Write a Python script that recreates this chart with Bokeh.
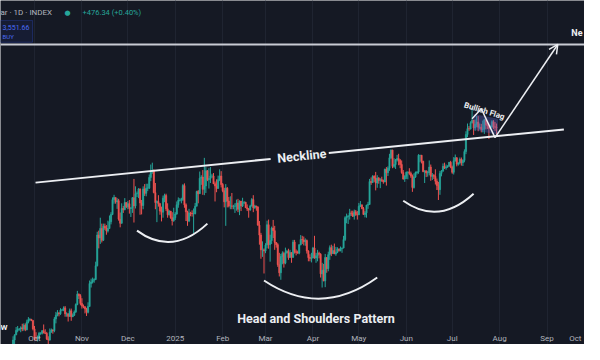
import pandas as pd
from bokeh.plotting import figure
from bokeh.models import (ColumnDataSource, FixedTicker, Span, Arrow, OpenHead,
                          Label, BoxAnnotation, Range1d)
from bokeh.embed import file_html
from bokeh.resources import INLINE

# ---------------- data (BTC/USD daily, thousands of USD) ----------------
start_date = "2024-09-17"
first_open = 58.2

closes = [
    60.3, 61.7, 62.9, 63.2, 63.3, 63.6, 63.3, 64.3, 63.1, 65.2, 65.8, 65.9, 65.6, 63.3,
    60.8, 60.6, 60.7, 62.1, 62.1, 62.8, 62.2, 62.1, 60.6, 60.3, 62.4, 63.0, 62.8, 66.0, 67.0, 67.6,
    67.4, 68.4, 68.4, 69.0, 67.4, 67.4, 66.7, 68.2, 66.6, 67.0, 67.9, 69.9, 72.7, 72.3, 70.2,
    69.5, 69.3, 68.7, 67.8, 69.4, 75.6, 76.0, 76.5, 76.7, 80.4, 88.7, 87.9, 90.5, 87.3, 91.1,
    90.6, 89.8, 90.5, 92.3, 94.3, 98.3, 98.9, 97.7, 98.0, 93.0, 91.9, 95.9, 95.6, 97.5, 96.4,
    97.2, 95.9, 96.0, 98.8, 96.6, 99.9, 99.9, 101.2, 97.4, 96.7, 101.2, 100.0, 101.4, 101.4, 104.3,
    106.0, 106.1, 100.2, 97.5, 97.8, 97.2, 95.2, 94.9, 98.7, 99.4, 95.8, 94.2, 95.2, 93.4, 92.6, 93.4,
    94.4, 96.9, 98.1, 98.2, 98.3, 102.1, 96.9, 95.0, 92.5, 94.7, 94.6, 94.5, 94.5, 96.5, 100.5,
    99.9, 104.1, 104.4, 101.1, 102.0, 106.1, 103.7, 104.0, 104.7, 104.7, 102.6, 102.0, 101.3, 103.7, 104.7, 102.4,
    100.7, 97.7, 101.4, 97.9, 96.6, 96.6, 96.5, 96.5, 96.5, 97.4, 95.7, 97.9, 96.6, 97.5,
    97.6, 96.1, 95.8, 95.5, 96.6, 98.3, 96.1, 96.6, 96.3, 91.4, 88.7, 84.7, 84.7, 84.4,
    86.0, 91.5, 86.1, 87.2, 90.6, 89.9, 86.7, 86.1, 80.7, 78.5, 82.9, 83.7, 81.1, 83.9, 84.3,
    82.6, 84.0, 82.7, 86.8, 84.2, 84.0, 83.8, 86.1, 87.5, 87.4, 86.9, 87.2, 84.4, 82.6, 82.4, 82.5,
    85.2, 82.5, 83.1, 83.8, 83.5, 78.2, 79.2, 76.3, 82.6, 79.6, 83.4, 85.3, 83.7, 84.5, 83.6,
    84.0, 84.9, 84.5, 85.1, 85.2, 87.5, 93.4, 93.7, 93.9, 94.7, 94.6, 93.8, 95.0, 94.3, 94.2,
    96.5, 96.9, 95.9, 94.3, 94.7, 96.8, 97.0, 103.2, 102.9, 104.6, 104.1, 102.8, 104.1, 103.5, 103.7,
    103.5, 103.1, 106.5, 105.6, 106.8, 109.6, 111.7, 107.3, 107.8, 109.0, 109.4, 108.9, 107.8, 105.6, 103.9, 104.6,
    105.7, 105.8, 105.4, 104.7, 101.6, 104.4, 105.6, 105.8, 110.3, 110.3, 108.7, 105.9, 106.1, 105.5, 105.6,
    107.1, 104.6, 104.9, 104.6, 103.3, 102.1, 101.0, 105.4, 106.0, 107.3, 106.9, 107.1, 107.4, 108.4, 107.1,
    105.7, 108.8, 109.6, 107.9, 108.2, 109.2, 108.3, 108.9, 111.3, 115.9, 117.5, 117.4, 119.1, 119.8, 117.7,
    118.7, 119.3, 117.9, 117.9, 117.3, 117.4, 119.9, 118.5, 118.3, 117.6, 117.9, 119.4, 118.0, 117.9, 117.8,
]
highs = [
    61.3, 61.8, 63.8, 64.1, 63.5, 64.0, 64.7, 64.8, 64.8, 65.8, 66.5, 66.2, 66.0, 65.6,
    64.1, 62.4, 61.5, 62.5, 62.4, 63.0, 64.5, 63.2, 62.5, 61.3, 63.4, 63.4, 63.2, 66.5, 67.9, 68.4,
    67.9, 68.9, 68.7, 69.4, 69.5, 67.8, 67.5, 68.8, 68.8, 67.5, 68.3, 70.2, 73.6, 72.9, 72.7,
    71.6, 69.9, 69.4, 69.0, 70.5, 76.4, 76.9, 77.2, 77.0, 81.5, 89.6, 89.9, 93.4, 91.8, 91.8,
    91.8, 91.4, 92.6, 94.0, 94.9, 98.9, 99.6, 98.8, 98.7, 98.5, 94.8, 97.3, 96.6, 98.7, 97.5,
    97.9, 98.2, 96.3, 99.0, 103.9, 101.9, 100.5, 101.4, 101.3, 98.2, 101.9, 102.5, 102.6, 102.6, 105.1,
    107.8, 108.3, 106.5, 102.8, 98.1, 99.5, 97.4, 96.4, 99.4, 99.9, 99.9, 97.3, 95.5, 95.2, 94.9, 96.1,
    94.9, 97.8, 98.9, 98.7, 98.8, 102.5, 102.7, 97.3, 95.3, 95.8, 95.0, 95.4, 95.9, 97.4, 100.7,
    100.9, 105.9, 104.9, 106.3, 109.6, 107.1, 106.3, 106.8, 107.1, 105.3, 105.5, 103.2, 103.8, 104.8, 106.5, 106.0,
    102.8, 101.5, 102.5, 101.7, 99.0, 99.2, 100.1, 96.9, 97.3, 98.3, 98.5, 98.1, 97.8, 98.8,
    97.9, 97.7, 97.0, 96.0, 96.9, 98.7, 99.5, 96.9, 96.6, 96.5, 92.5, 89.3, 87.0, 85.1,
    86.5, 92.6, 92.9, 88.8, 91.0, 92.8, 91.2, 86.8, 86.5, 83.9, 83.6, 84.3, 84.2, 85.3, 84.7,
    85.0, 84.7, 84.0, 87.4, 87.4, 84.8, 84.5, 86.2, 88.7, 88.5, 88.3, 87.8, 87.5, 84.6, 83.5, 83.9,
    85.5, 88.5, 83.9, 84.7, 84.2, 83.8, 81.2, 80.9, 83.6, 82.7, 84.2, 85.9, 86.1, 85.8, 86.4,
    85.5, 85.4, 85.1, 85.6, 85.3, 88.5, 93.8, 94.5, 94.0, 95.8, 95.3, 95.3, 95.6, 95.5, 95.2,
    97.4, 97.9, 96.9, 96.3, 95.2, 96.9, 97.7, 103.9, 104.3, 104.9, 104.9, 105.8, 104.9, 104.4, 104.1,
    104.5, 103.7, 106.7, 107.1, 107.3, 110.7, 111.9, 111.8, 109.5, 109.3, 110.4, 110.7, 109.3, 108.9, 106.3, 104.9,
    105.9, 105.9, 106.8, 105.9, 105.1, 105.4, 105.9, 106.0, 110.6, 110.4, 110.4, 108.8, 106.2, 106.2, 106.1,
    108.9, 107.8, 105.5, 105.2, 106.5, 104.0, 103.1, 106.1, 106.3, 108.1, 108.3, 107.8, 107.6, 108.5, 108.8,
    107.5, 109.8, 110.5, 109.8, 108.4, 109.7, 109.7, 109.2, 111.9, 116.8, 118.9, 118.2, 119.5, 123.2, 119.9,
    120.0, 120.9, 120.9, 118.9, 118.8, 119.7, 120.2, 120.0, 119.5, 118.5, 118.4, 119.8, 119.8, 119.3, 118.9,
]
lows = [
    58.0, 59.2, 61.6, 62.4, 62.8, 62.4, 62.7, 62.8, 62.7, 62.9, 64.8, 65.4, 65.4, 62.9,
    60.2, 60.0, 59.9, 60.5, 61.7, 61.8, 62.1, 61.9, 60.3, 58.9, 60.1, 62.3, 62.0, 62.4, 64.8, 66.7,
    66.7, 67.1, 68.1, 68.1, 66.6, 66.6, 65.3, 66.6, 65.5, 66.5, 66.8, 67.6, 69.7, 71.4, 69.7,
    68.8, 68.9, 67.5, 66.8, 67.5, 69.3, 74.5, 75.6, 75.8, 76.5, 80.2, 85.1, 86.3, 86.7, 87.1,
    90.1, 88.8, 89.4, 90.4, 91.6, 94.1, 97.2, 97.2, 95.8, 92.6, 90.8, 91.8, 94.7, 95.4, 96.0,
    95.7, 94.5, 93.6, 94.7, 92.1, 95.9, 99.0, 98.7, 94.2, 94.3, 95.7, 99.3, 99.2, 100.6, 101.2,
    103.3, 105.3, 100.0, 95.7, 92.2, 96.4, 94.2, 92.4, 93.4, 97.6, 95.2, 93.4, 94.0, 93.1, 91.3, 92.3,
    92.8, 94.2, 96.1, 97.8, 97.3, 97.9, 96.1, 92.5, 91.2, 92.2, 93.8, 93.7, 89.2, 94.3, 96.5,
    97.3, 99.9, 102.3, 99.6, 99.5, 100.1, 103.3, 101.3, 102.8, 104.1, 102.5, 97.8, 100.3, 101.3, 103.3, 101.6,
    100.3, 96.2, 91.2, 96.2, 96.2, 95.7, 95.7, 95.7, 94.7, 95.3, 94.9, 94.1, 95.2, 96.3,
    97.1, 96.1, 95.2, 93.4, 95.3, 96.4, 94.9, 95.8, 95.3, 91.2, 86.1, 82.3, 82.8, 78.3,
    83.8, 85.1, 85.0, 81.5, 86.3, 87.9, 84.7, 85.3, 80.1, 77.5, 76.6, 80.8, 79.9, 80.8, 83.7,
    82.0, 82.5, 81.2, 82.5, 83.7, 83.2, 83.7, 83.5, 85.9, 86.3, 85.9, 85.8, 83.7, 81.6, 81.6, 81.3,
    82.4, 82.3, 81.2, 81.6, 82.4, 77.2, 74.5, 76.2, 74.6, 78.5, 78.9, 82.0, 83.0, 83.6, 83.6,
    83.1, 83.8, 84.2, 84.3, 83.9, 85.1, 87.1, 91.9, 91.7, 92.9, 93.9, 93.6, 92.9, 93.9, 92.9,
    94.1, 96.3, 95.7, 94.2, 93.5, 93.4, 95.8, 96.9, 102.3, 102.8, 103.1, 100.8, 101.5, 102.6, 101.4,
    103.1, 102.6, 103.0, 102.1, 104.7, 106.1, 109.3, 106.8, 106.9, 106.6, 108.6, 107.6, 106.8, 105.3, 103.7, 103.1,
    103.9, 103.8, 105.0, 104.2, 100.4, 101.3, 104.2, 105.1, 105.3, 108.4, 108.1, 105.7, 102.8, 104.4, 104.5,
    104.9, 103.4, 103.6, 103.9, 102.4, 100.9, 98.2, 99.6, 104.6, 105.9, 106.6, 106.4, 106.9, 107.2, 106.8,
    105.3, 105.1, 108.6, 107.3, 107.5, 107.8, 107.5, 107.4, 108.4, 110.6, 115.2, 116.9, 117.3, 118.9, 115.8,
    116.9, 117.9, 116.8, 117.3, 116.5, 116.5, 116.1, 117.3, 117.4, 114.7, 117.4, 117.8, 117.4, 116.9, 115.9,
]

month_ticks = ["2024-10-01", "2024-11-01", "2024-12-01", "2025-01-01", "2025-02-01",
               "2025-03-01", "2025-04-01", "2025-05-01", "2025-06-01", "2025-07-01",
               "2025-08-01", "2025-09-01", "2025-10-01"]
month_labels = ["Oct", "Nov", "Dec", "2025", "Feb", "Mar", "Apr", "May", "Jun", "Jul",
                "Aug", "Sep", "Oct"]

# annotation anchors (date, price in k USD)
neck_dates = ["2024-10-01 16:00", "2025-09-12"]
neck_prices = [102.9, 117.3]
target_price = 140.3
arc_start_dates = ["2024-12-07", "2025-02-28", "2025-05-30"]
arc_start_prices = [89.9, 76.4, 98.0]
arc_ctrl_dates = ["2024-12-30", "2025-04-06", "2025-06-22"]
arc_ctrl_prices = [82.9, 66.2, 91.2]
arc_end_dates = ["2025-01-22", "2025-05-13", "2025-07-15"]
arc_end_prices = [91.8, 77.2, 99.9]
flag_line_dates = ["2025-07-14", "2025-07-20", "2025-07-29"]
flag_line_prices = [120.2, 122.9, 115.1]
flag_box_dates = ["2025-07-15", "2025-07-31", "2025-07-31", "2025-07-15"]
flag_box_prices = [121.5, 120.2, 115.8, 117.2]
arrow_dates = ["2025-07-29", "2025-09-08"]
arrow_prices = [115.1, 140.3]

# ---------------- build ----------------
def ms(d):
    return pd.Timestamp(d).value / 1e6

n = min(len(closes), len(highs), len(lows))
closes, highs, lows = closes[:n], highs[:n], lows[:n]
dates = pd.date_range(start_date, periods=n, freq="D")
opens = [first_open] + closes[:-1]
UP, DOWN = "#26a69a", "#ef5350"
src = ColumnDataSource(dict(
    date=dates, open=opens, close=closes, high=highs, low=lows,
    top=[max(o, c) for o, c in zip(opens, closes)],
    bottom=[min(o, c) for o, c in zip(opens, closes)],
    color=[UP if c >= o else DOWN for o, c in zip(opens, closes)],
))

BG = "#151924"
oct1 = pd.Timestamp("2024-10-01")
x_start = oct1 - pd.Timedelta(days=34 / 1.53)
x_end = oct1 + pd.Timedelta(days=550 / 1.53)

p = figure(width=584, height=344, x_axis_type="datetime",
           x_range=Range1d(x_start, x_end), y_range=Range1d(59.08, 152.2),
           output_backend="svg", toolbar_location=None, y_axis_location=None,
           x_axis_location=None, min_border=0, background_fill_color=BG,
           border_fill_color=BG, outline_line_color=None)

tick_ms = [ms(d) for d in month_ticks]
p.xgrid.ticker = FixedTicker(ticks=tick_ms)
p.xgrid.grid_line_color = "#1f2431"
p.ygrid.grid_line_color = None

# time-axis labels
x_end_ms = ms(x_end)
for t, lab in zip(tick_ms, month_labels):
    edge = t > x_end_ms - 4 * 86400000
    p.add_layout(Label(x=min(t, x_end_ms) - (2 * 86400000 if edge else 0), y=6,
                       y_units="screen", text=lab,
                       text_color="#b2b5be", text_font="Roboto", text_font_size="8px",
                       text_align="right" if edge else "center",
                       text_baseline="middle"))

day = 86400000
p.segment(x0="date", y0="low", x1="date", y1="high", line_color="color",
          line_width=1, source=src)
p.vbar(x="date", width=day * 0.8, top="top", bottom="bottom", fill_color="color",
       line_color="color", line_width=0.6, source=src)

LINE = "#eceef2"
# target line
p.add_layout(Span(location=target_price, dimension="width", line_color="#c9ccd4",
                  line_width=2))

# neckline with gap for label
nx0, nx1 = ms(neck_dates[0]), ms(neck_dates[1])
ny0, ny1 = neck_prices
def along(f):
    return nx0 + (nx1 - nx0) * f, ny0 + (ny1 - ny0) * f
ga, gb, gm = along(0.445), along(0.555), along(0.504)
p.line([nx0, ga[0]], [ny0, ga[1]], line_color=LINE, line_width=2)
p.line([gb[0], nx1], [gb[1], ny1], line_color=LINE, line_width=2)
p.add_layout(Label(x=gm[0], y=gm[1], text="Neckline", text_color=LINE,
                   text_font="Roboto", text_font_size="12.5px", text_font_style="bold",
                   angle=0.1, text_align="center", text_baseline="middle"))

# arcs
p.quadratic(x0=[ms(d) for d in arc_start_dates], y0=arc_start_prices,
            x1=[ms(d) for d in arc_end_dates], y1=arc_end_prices,
            cx=[ms(d) for d in arc_ctrl_dates], cy=arc_ctrl_prices,
            line_color=LINE, line_width=2)

p.add_layout(Label(x=ms("2025-04-03"), y=66.1, text="Head and Shoulders Pattern",
                   text_color=LINE, text_font="Roboto", text_font_size="12.5px",
                   text_font_style="bold", text_align="center", text_baseline="middle"))

# flag
p.patch([ms(d) for d in flag_box_dates], flag_box_prices, fill_color="#5865c9",
        fill_alpha=0.35, line_color=None)
p.line([ms(d) for d in flag_line_dates], flag_line_prices, line_color=LINE, line_width=1.5)
p.add_layout(Label(x=ms("2025-07-22"), y=122.3, text="Bullish Flag", text_color=LINE,
                   text_font="Roboto", text_font_size="8px", text_font_style="bold",
                   angle=-0.3, text_align="center", text_baseline="middle"))
p.add_layout(Arrow(end=OpenHead(size=9, line_color=LINE, line_width=1.5),
                   x_start=ms(arrow_dates[0]), y_start=arrow_prices[0],
                   x_end=ms(arrow_dates[1]), y_end=arrow_prices[1],
                   line_color=LINE, line_width=1.5))
p.add_layout(Label(x=582, x_units="screen", y=143.5, text="Ne", text_color=LINE,
                   text_font="Roboto", text_font_size="9px", text_font_style="bold",
                   text_align="right", text_baseline="middle"))

# header
p.add_layout(Label(x=0, x_units="screen", y=148.9, text="ar · 1D · INDEX",
                   text_color="#b2b5be", text_font="Roboto", text_font_size="8px",
                   text_baseline="middle"))
p.add_layout(Label(x=64, x_units="screen", y=148.9, text="●", text_color="#26a69a",
                   text_font="DejaVu Sans", text_font_size="7px", text_baseline="middle"))
p.add_layout(Label(x=82, x_units="screen", y=148.9, text="+476.34 (+0.40%)",
                   text_color="#26a69a", text_font="Roboto", text_font_size="7.5px",
                   text_baseline="middle"))
p.add_layout(BoxAnnotation(left=0, right=32, left_units="screen", right_units="screen",
                           top=146.8, bottom=140.9, fill_color="#161c33", fill_alpha=1,
                           line_color="#2f4fd6", line_width=1))
p.add_layout(Label(x=2, x_units="screen", y=145.0, text="3,551.66", text_color="#4a6cf7",
                   text_font="Roboto", text_font_size="7px", text_baseline="middle"))
p.add_layout(Label(x=2, x_units="screen", y=142.5, text="BUY", text_color="#4a6cf7",
                   text_font="Roboto", text_font_size="6px", text_baseline="middle"))
p.add_layout(Label(x=0, x_units="screen", y=63.7, text="W", text_color=LINE,
                   text_font="Roboto", text_font_size="8px", text_font_style="bold",
                   text_baseline="middle"))

open("out.html", "w").write(file_html(p, INLINE))
